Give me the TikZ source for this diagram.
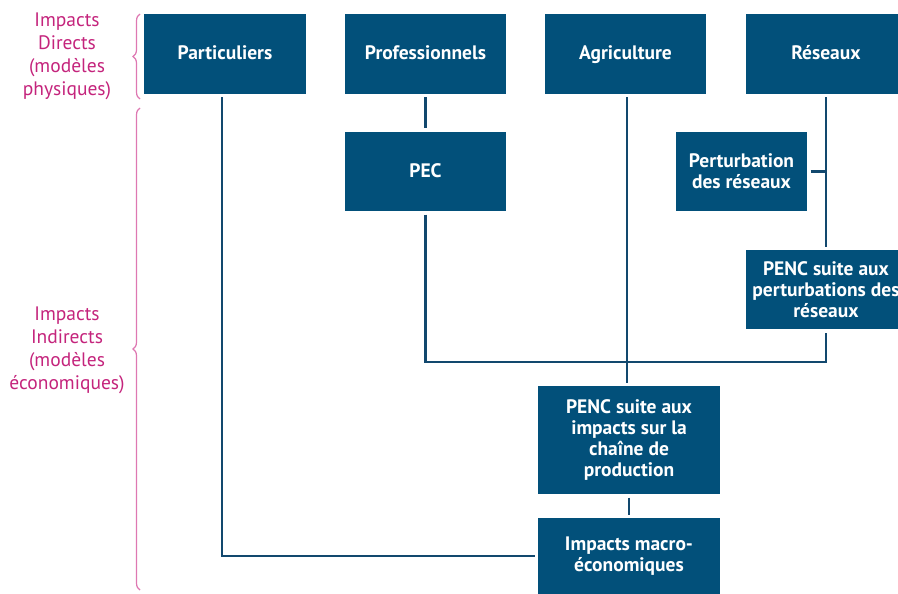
\documentclass[tikz,border=0pt]{standalone}
\usepackage{fontspec}
\setmainfont{PT Sans}
\usetikzlibrary{decorations.pathreplacing}
\definecolor{boxblue}{RGB}{2,80,122}
\definecolor{linkblue}{RGB}{18,72,110}
\definecolor{labmag}{RGB}{196,36,124}
\definecolor{bracepink}{RGB}{222,120,178}
\begin{document}
\begin{tikzpicture}[x=1pt,y=-1pt,
  box/.style={fill=boxblue,draw=none,text=white,font=\fontsize{19.5}{21}\selectfont\bfseries,
    align=center,inner sep=2pt,outer sep=3.5pt},
  oneline/.style={text height=13.5pt,text depth=1.5pt},
  link/.style={draw=linkblue,line width=2.6pt},
  grouplab/.style={text=labmag,font=\fontsize{19.5}{23}\selectfont,align=center},
  grpbrace/.style={draw=bracepink,line width=1.2pt,decorate,decoration={brace,amplitude=7pt}}]
\useasboundingbox (0,0) rectangle (898,594);
\clip (0,0) rectangle (898,594);
\node[box,oneline,minimum width=162pt,minimum height=80pt] (part) at (225,54) {Particuliers};
\node[box,oneline,minimum width=161pt,minimum height=80pt] (prof) at (425.5,54) {Professionnels};
\node[box,oneline,minimum width=161pt,minimum height=80pt] (agri) at (625.5,54) {Agriculture};
\node[box,oneline,minimum width=161pt,minimum height=80pt] (res) at (826,54) {Réseaux};
\node[box,oneline,minimum width=161pt,minimum height=79pt] (pec) at (425.5,171.5) {PEC};
\node[box,minimum width=131pt,minimum height=79pt] (pert) at (741.5,171.5) {Perturbation\\des réseaux};
\node[box,minimum width=161pt,minimum height=79pt] (pencr) at (826,289.5) {PENC suite aux\\perturbations des\\réseaux};
\node[box,minimum width=182pt,minimum height=108pt] (pencc) at (629,440) {PENC suite aux\\impacts sur la\\chaîne de\\production};
\node[box,minimum width=182pt,minimum height=76pt] (macro) at (629,556) {Impacts macro-\\économiques};
\coordinate (j) at (826,362);
\draw[link] (part.south) ++(-3,0) coordinate (ps) |- (macro.west);
\draw[link] (prof) -- (pec);
\draw[link] (pec.south) |- (j) -- (pencr.south);
\draw[link] (agri.south) ++(1.5,0) coordinate (as) -- (as |- pencc.north);
\draw[link] (res) -- (pencr);
\draw[link] (pert.east) -- (pert.east -| res.south);
\draw[link] (pencc) -- (macro);
\node[grouplab] (ld) at (67,56) {Impacts\\Directs\\(modèles\\physiques)};
\node[grouplab] (li) at (67,350) {Impacts\\Indirects\\(modèles\\économiques)};
\draw[grpbrace] (140,99) -- (140,14);
\draw[grpbrace] (140,590) -- (140,108);
\end{tikzpicture}
\end{document}
